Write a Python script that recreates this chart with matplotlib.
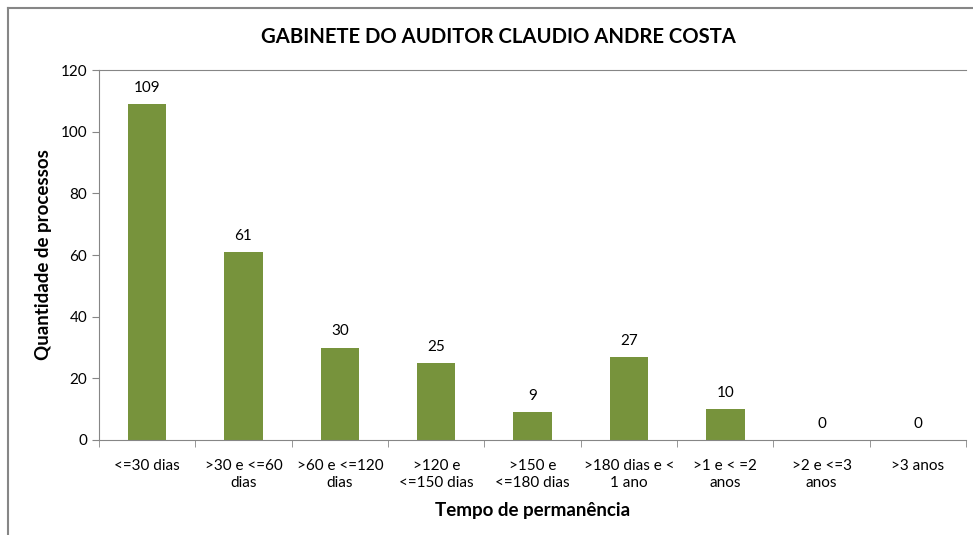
import matplotlib.pyplot as plt
from matplotlib.lines import Line2D
import numpy as np

categorias = ['<=30 dias', '>30 e <=60\ndias', '>60 e <=120\ndias', '>120 e\n<=150 dias',
              '>150 e\n<=180 dias', '>180 dias e <\n1 ano', '>1 e < =2\nanos', '>2 e <=3\nanos', '>3 anos']
processos = [109, 61, 30, 25, 9, 27, 10, 0, 0]

plt.rcParams['font.family'] = ['Lato', 'DejaVu Sans']

fig = plt.figure(figsize=(9.73, 5.35), dpi=100)
ax = fig.add_axes([0.1017, 0.1776, 0.8913, 0.6914])

# moldura externa do grafico: so topo e esquerda aparecem
bx, by = 8/973, 1 - 8/535
fig.lines.append(Line2D([bx, 1.0], [by, by], transform=fig.transFigure, color='#868686', linewidth=1.5))
fig.lines.append(Line2D([bx, bx], [0.0, by], transform=fig.transFigure, color='#868686', linewidth=1.5))

x = np.arange(len(categorias))
ax.bar(x, processos, width=0.4, color='#77933C')
for xi, v in zip(x, processos):
    ax.text(xi, v + 3, str(v), ha='center', va='bottom', fontsize=11)

ax.set_xlim(-0.5, len(categorias) - 0.5)
ax.set_ylim(0, 120)
ax.set_yticks(range(0, 121, 20))
ax.set_xticks(x)
ax.set_xticklabels(categorias, fontsize=11)
ax.set_xticks(np.arange(-0.5, len(categorias), 1), minor=True)
ax.tick_params(axis='x', which='major', length=0, pad=14)
ax.tick_params(axis='x', which='minor', length=5, color='#868686', direction='out')
ax.tick_params(axis='y', length=5, color='#868686', labelsize=11)

ax.spines['right'].set_visible(False)
for s in ['left', 'bottom', 'top']:
    ax.spines[s].set_color('#868686')

fig.text(498/973, 1 - 37/535, 'GABINETE DO AUDITOR CLAUDIO ANDRE COSTA', fontsize=14.6,
         fontweight='bold', ha='center', va='center')
ax.set_xlabel('Tempo de permanência', fontsize=13.5, fontweight='bold', labelpad=9)
ax.set_ylabel('Quantidade de processos', fontsize=13.5, fontweight='bold', labelpad=6)

fig.savefig('out.png', dpi=100)
